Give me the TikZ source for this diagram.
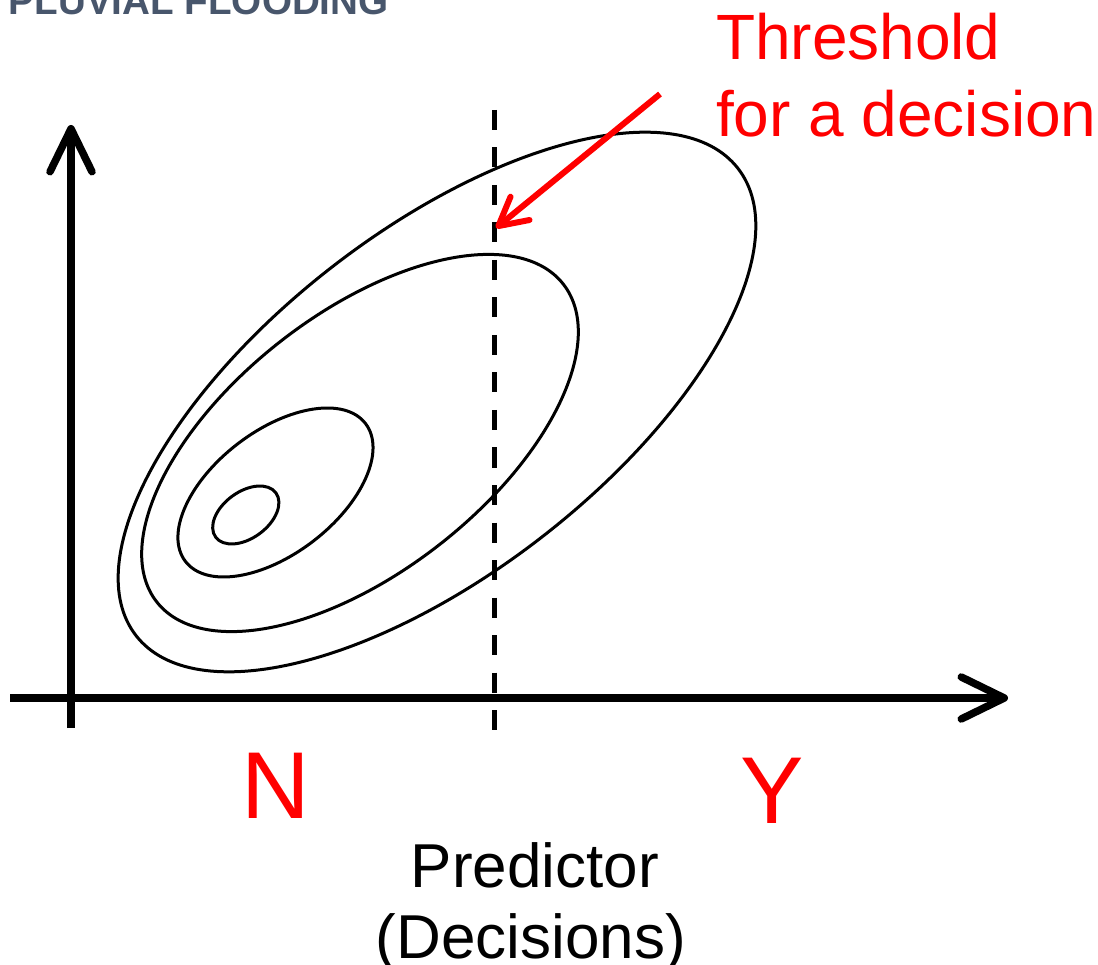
\documentclass[tikz,border=0pt]{standalone}
\usepackage{fontspec}
\setmainfont{Liberation Sans}
\usetikzlibrary{arrows.meta}
\definecolor{titlegray}{RGB}{72,86,108}
\tikzset{
  axis/.style={line width=7.5pt,-{Straight Barb[length=43pt,width=42pt,round]}},
  contour/.style={line width=3pt},
  thresh/.style={line width=5pt,dash pattern=on 20pt off 17.5pt},
  redarrow/.style={red,line width=6pt,-{Straight Barb[length=28pt,width=30pt,round]}},
  lbl/.style={inner sep=0pt,outer sep=0pt},
}
\begin{document}
\begin{tikzpicture}[x=1pt,y=-1pt]
\useasboundingbox (0,0) rectangle (1098,965);
% title (cut off at top)
\node[lbl,anchor=base west,text=titlegray,font=\fontsize{38.6}{40}\selectfont\bfseries] (title) at (9,15) {PLUVIAL FLOODING};
% axes
\coordinate (yb) at (71,728);
\coordinate (yt) at (71,125);
\coordinate (xl) at (10,698);
\coordinate (xr) at (1008,698);
\draw[axis] (yb) -- (yt);
\draw[axis] (xl) -- (xr);
% contours
\coordinate (c1) at (437,402);
\coordinate (c2) at (360,443);
\coordinate (c3) at (275.5,492.5);
\coordinate (c4) at (245.8,515);
\draw[contour,rotate around={37.8:(c1)}] (c1) ellipse [x radius=381, y radius=171];
\draw[contour,rotate around={38:(c2)}] (c2) ellipse [x radius=258, y radius=129];
\draw[contour,rotate around={37.4:(c3)}] (c3) ellipse [x radius=113.4, y radius=61.6];
\draw[contour,rotate around={36.3:(c4)}] (c4) ellipse [x radius=37.4, y radius=23.2];
% threshold line
\coordinate (tht) at (494,110);
\coordinate (thb) at (494,747);
\draw[thresh] (tht) -- (thb);
% red arrow
\coordinate (ras) at (660,94);
\coordinate (rat) at (496,228);
\draw[redarrow] (ras) -- (rat);
% labels
\node[lbl,anchor=base west,text=red,font=\fontsize{64}{77}\selectfont] (thr1) at (716,60) {Threshold};
\node[lbl,anchor=base west,text=red,font=\fontsize{64}{77}\selectfont] (thr2) at (716,137) {for a decision};
\node[lbl,anchor=base,text=red,font=\fontsize{95}{100}\selectfont] (nlab) at (276,818) {N};
\node[lbl,anchor=base,text=red,font=\fontsize{95}{100}\selectfont] (ylab) at (772.5,823) {Y};
\node[lbl,anchor=base,font=\fontsize{62}{70}\selectfont] (pred1) at (535,887) {Predictor};
\node[lbl,anchor=base,font=\fontsize{62}{70}\selectfont] (pred2) at (531,958) {(Decisions)};
\end{tikzpicture}
\end{document}
